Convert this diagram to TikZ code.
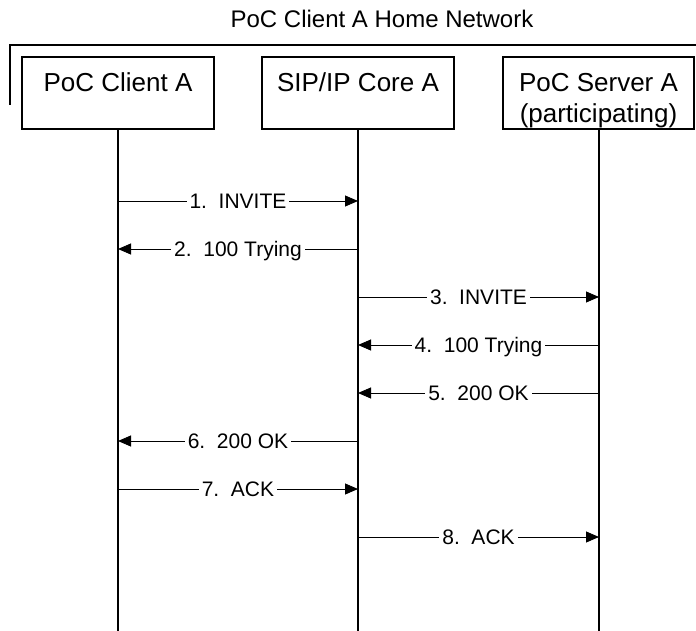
\documentclass[tikz,border=0pt]{standalone}
\usepackage{fontspec}
\setmainfont{Liberation Sans}
\usetikzlibrary{arrows.meta}
\begin{document}
\begin{tikzpicture}[x=1pt,y=1pt,
  entity/.style={draw, line width=1.4pt, minimum width=192pt, minimum height=72pt, inner sep=0pt},
  etext/.style={anchor=base, font=\fontsize{26}{30}\selectfont, inner sep=0pt},
  life/.style={line width=1.4pt},
  frame/.style={line width=1.4pt},
  msg/.style={line width=0.9pt, -{Triangle[length=13pt,width=11pt]}},
  lbl/.style={fill=white, font=\fontsize{21}{24}\selectfont, text height=15pt, text depth=0pt, inner xsep=3pt, inner ysep=1pt}]
\useasboundingbox (0,0) rectangle (696,-631);
% title and frame
\node[anchor=base, font=\fontsize{24}{28}\selectfont, inner sep=0pt] (title) at (382,-28) {PoC Client A Home Network};
\coordinate (fl) at (10,-105);
\coordinate (ftl) at (10,-45);
\coordinate (ftr) at (696,-45);
\draw[frame] (fl) -- (ftl) -- (ftr);
% entities
\node[entity] (ca) at (118,-93) {};
\node[entity] (sc) at (358,-93) {};
\node[entity, minimum width=191pt] (ps) at (598.5,-93) {};
\node[etext] (cat) at (118,-92) {PoC Client A};
\node[etext] (sct) at (358,-92) {SIP/IP Core A};
\node[etext] (pst1) at (598.5,-92) {PoC Server A};
\node[etext] (pst2) at (598.5,-123) {(participating)};
% lifelines
\coordinate (caend) at (118,-631);
\coordinate (scend) at (358,-631);
\coordinate (psend) at (599,-631);
\draw[life] (ca.south) -- (caend);
\draw[life] (sc.south) -- (scend);
\draw[life] (599,-129) coordinate (psstart) -- (psend);
% message anchor points
\foreach \i/\y in {1/201,2/249,3/297,4/345,5/393,6/441,7/489,8/537}{
  \coordinate (a\i) at (118,-\y);
  \coordinate (b\i) at (358,-\y);
  \coordinate (c\i) at (599,-\y);
}
\draw[msg] (a1) -- node[lbl] (m1) {1.~~INVITE} (b1);
\draw[msg] (b2) -- node[lbl] (m2) {2.~~100 Trying} (a2);
\draw[msg] (b3) -- node[lbl] (m3) {3.~~INVITE} (c3);
\draw[msg] (c4) -- node[lbl] (m4) {4.~~100 Trying} (b4);
\draw[msg] (c5) -- node[lbl] (m5) {5.~~200 OK} (b5);
\draw[msg] (b6) -- node[lbl] (m6) {6.~~200 OK} (a6);
\draw[msg] (a7) -- node[lbl] (m7) {7.~~ACK} (b7);
\draw[msg] (b8) -- node[lbl] (m8) {8.~~ACK} (c8);
\end{tikzpicture}
\end{document}
